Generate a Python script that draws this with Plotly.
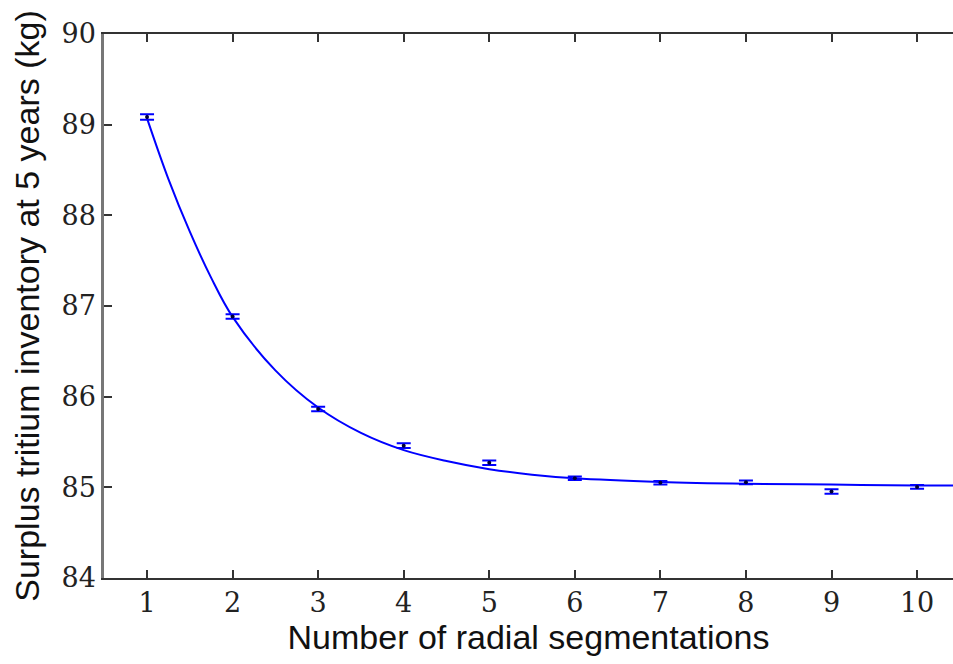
import plotly.graph_objects as go

# Measured points (number of radial segmentations vs surplus tritium inventory)
seg = [1, 2, 3, 4, 5, 6, 7, 8, 9, 10]
inventory = [89.085, 86.885, 85.865, 85.46, 85.27, 85.10, 85.05, 85.055, 84.955, 85.005]
err = [0.03, 0.025, 0.025, 0.025, 0.025, 0.02, 0.02, 0.02, 0.025, 0.02]

# Fitted curve
curve_x = [1, 1.25, 1.5, 1.75, 2, 2.5, 3, 3.5, 4, 4.5, 5, 5.5, 6, 7, 8, 9, 10, 10.5]
curve_y = [89.07, 88.40, 87.82, 87.31, 86.88, 86.29, 85.88, 85.60, 85.41, 85.29,
           85.20, 85.14, 85.10, 85.06, 85.04, 85.03, 85.02, 85.02]

xticks = [1, 2, 3, 4, 5, 6, 7, 8, 9, 10]
yticks = [84, 85, 86, 87, 88, 89, 90]

fig = go.Figure()
fig.add_trace(go.Scatter(
    x=curve_x, y=curve_y, mode="lines", line=dict(color="#0000ff", width=2, shape="spline", smoothing=1.0),
    hoverinfo="skip", showlegend=False))
fig.add_trace(go.Scatter(
    x=seg, y=inventory, mode="markers",
    marker=dict(color="#000033", size=4),
    error_y=dict(type="data", array=err, color="#0000ff", thickness=2, width=7, visible=True),
    showlegend=False))

tickfont = dict(family="DejaVu Serif", size=27, color="#222")
titlefont = dict(family="Liberation Sans", size=34, color="#111")
fig.update_layout(
    width=953, height=664,
    margin=dict(l=104, r=0, t=34, b=86),
    plot_bgcolor="white", paper_bgcolor="white",
    xaxis=dict(range=[0.497, 10.42], tickvals=xticks, ticktext=[str(v) for v in xticks],
               ticks="inside", ticklen=8, tickcolor="#333", tickwidth=1.5,
               showline=True, linecolor="#333", linewidth=1.5, mirror="ticks",
               showgrid=False, zeroline=False, tickfont=tickfont,
               title=dict(text="Number of radial segmentations", font=titlefont, standoff=5)),
    yaxis=dict(range=[84, 90], tickvals=yticks, ticktext=[str(v) for v in yticks],
               ticks="inside", ticklen=8, tickcolor="#333", tickwidth=1.5,
               showline=True, linecolor="#777", linewidth=2.5, mirror=False,
               showgrid=False, zeroline=False, tickfont=tickfont,
               title=dict(text="Surplus tritium inventory at 5 years (kg)", font=titlefont, standoff=12)),
)

fig.write_html("out.html")
